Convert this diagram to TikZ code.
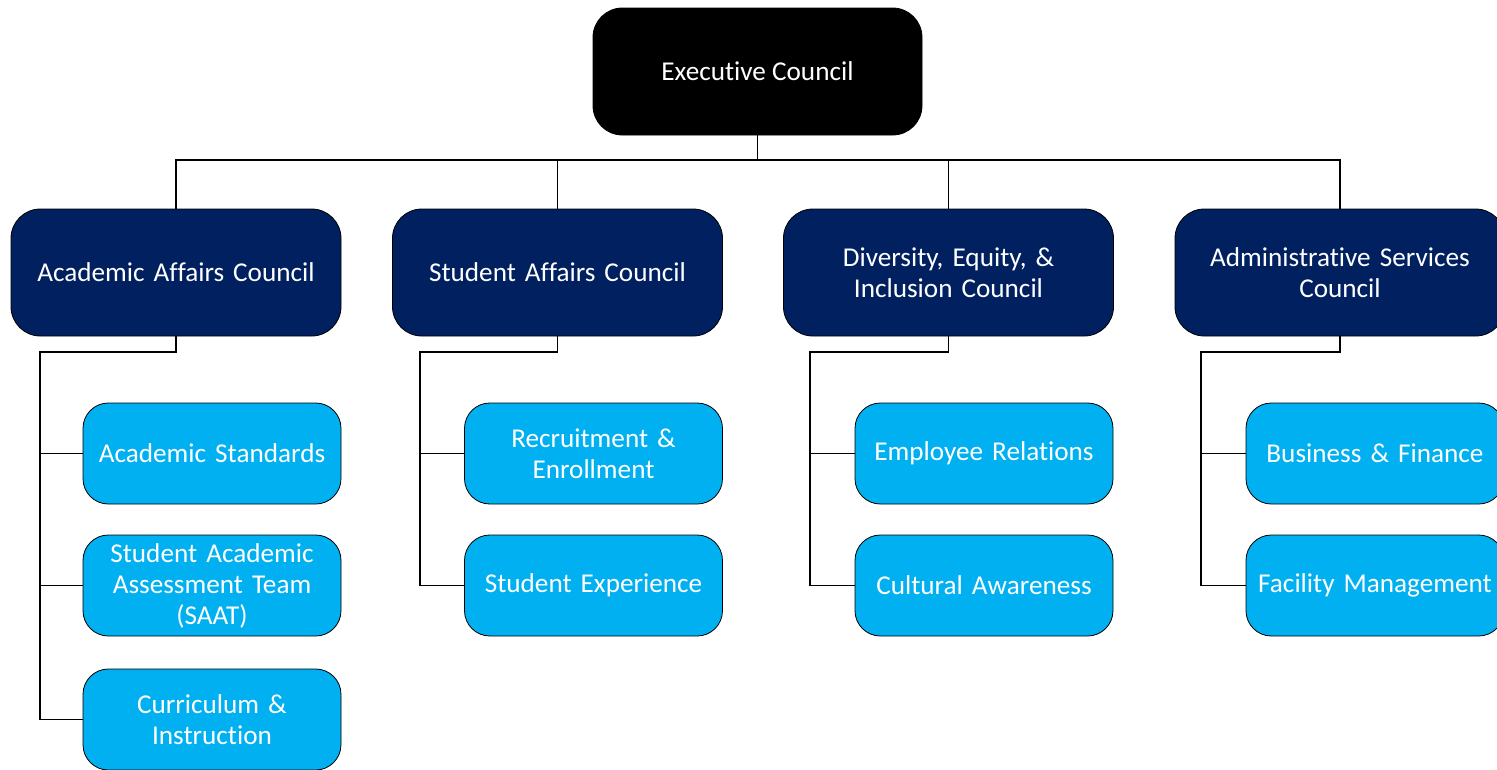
\documentclass[tikz,border=0pt]{standalone}
\usepackage{fontspec}
\setmainfont{Carlito}[Ligatures={NoCommon}]
\definecolor{navy}{HTML}{002060}
\definecolor{sky}{HTML}{00B0F0}
\begin{document}
\begin{tikzpicture}[x=0.75pt,y=-0.75pt,
  box/.style={draw=black,line width=0.6pt,text=white,align=center,
    font=\fontsize{20.4pt}{23.3pt}\selectfont,inner sep=0pt},
  topbox/.style={box,fill=black,rounded corners=22pt,minimum width=246.75pt,minimum height=95.25pt},
  midbox/.style={box,fill=navy,rounded corners=22pt,minimum width=247.5pt,minimum height=95.25pt,text width=240pt},
  subbox/.style={box,fill=sky,rounded corners=19pt,minimum width=193.5pt,minimum height=75.75pt,text width=192pt},
  link/.style={draw=black,line width=0.9pt}]
\useasboundingbox (0,0) rectangle (1497,769);
\clip (0,0) rectangle (1497,769);

\node[topbox] (exec) at (757.5,71.5) {Executive Council};

\node[midbox] (aac) at (176,272.5) {Academic Affairs Council};
\node[midbox] (sac) at (557.5,272.5) {Student Affairs Council};
\node[midbox] (dei) at (948.5,272.5) {Diversity, Equity, \&\\Inclusion Council};
\node[midbox] (asc) at (1340,272.5) {Administrative Services\\Council};

\node[subbox] (as1) at (212,453.5) {Academic Standards};
\node[subbox] (as2) at (212,585.5) {Student Academic\\Assessment Team\\(SAAT)};
\node[subbox] (as3) at (212,719.5) {Curriculum \&\\Instruction};

\node[subbox] (ss1) at (593.5,453.5) {Recruitment \&\\Enrollment};
\node[subbox] (ss2) at (593.5,585.5) {Student Experience};

\node[subbox] (ds1) at (984,453.5) {Employee Relations};
\node[subbox] (ds2) at (984,585.5) {Cultural Awareness};

\node[subbox] (ms1) at (1375,453.5) {Business \& Finance};
\node[subbox] (ms2) at (1375,585.5) {Facility Management};

\coordinate (bus) at (757.5,160);
\foreach \c in {aac,sac,dei,asc}
  \draw[link] (exec.south) -- (bus) -| (\c.north);

\coordinate (aacr) at (40,352);
\coordinate (sacr) at (420,352);
\coordinate (deir) at (810,352);
\coordinate (ascr) at (1201,352);

\draw[link] (aac.south) |- (aacr) |- (as3.west);
\draw[link] (aacr) |- (as1.west);
\draw[link] (aacr) |- (as2.west);

\draw[link] (sac.south) |- (sacr) |- (ss2.west);
\draw[link] (sacr) |- (ss1.west);

\draw[link] (dei.south) |- (deir) |- (ds2.west);
\draw[link] (deir) |- (ds1.west);

\draw[link] (asc.south) |- (ascr) |- (ms2.west);
\draw[link] (ascr) |- (ms1.west);
\end{tikzpicture}
\end{document}
